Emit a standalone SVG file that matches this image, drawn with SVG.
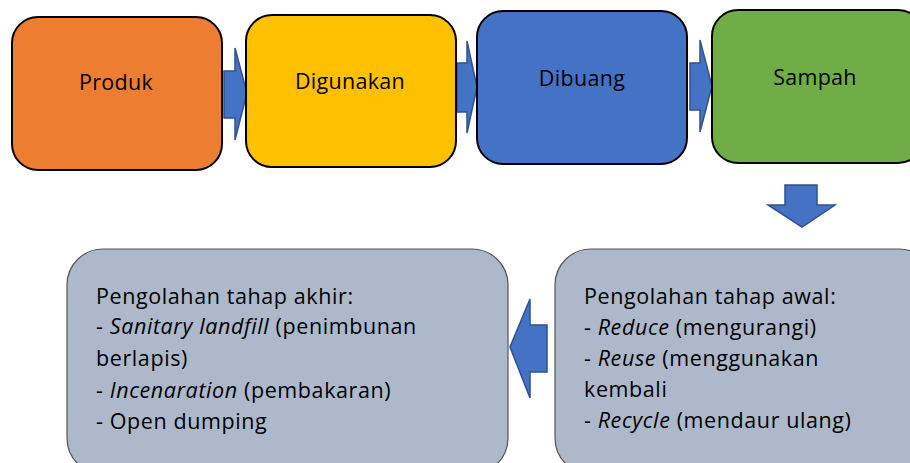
<svg xmlns="http://www.w3.org/2000/svg" width="910" height="463" viewBox="0 0 910 463">
<style>
text { font-family: "Open Sans", "Noto Sans", "Liberation Sans", sans-serif; fill: #000; }
.lbl { font-size: 21.5px; text-anchor: middle; letter-spacing: 0.3px; }
.body { font-size: 21.5px; letter-spacing: 0.6px; }
.top { stroke: #000; stroke-width: 2; }
.bot { fill: #ADB9CA; stroke: #555; stroke-width: 1.2; }
.arr { fill: #4472C4; stroke: #2F528F; stroke-width: 1.5; stroke-linejoin: miter; }
.it { font-style: italic; }
</style>
<rect width="910" height="463" fill="#fff"/>
<g id="connectors">
  <polygon class="arr" points="224,71 235,71 235,48 247,93 235,140 235,118 224,118"/>
  <polygon class="arr" points="457,63 467,63 467,41 477,87 467,133 467,112 457,112"/>
  <polygon class="arr" points="690,63 700,63 700,40 712,86 700,132 700,110 690,110"/>
  <polygon class="arr" points="785,185 817,185 817,205 835,205 802,227 768,205 785,205"/>
  <polygon class="arr" points="547,325 530,325 530,299 510,347 530,398 530,372 547,372"/>
</g>
<g id="produk">
  <rect class="top" x="12" y="17" width="210" height="153" rx="26" fill="#ED7D31"/>
  <text class="lbl" x="116" y="90">Produk</text>
</g>
<g id="digunakan">
  <rect class="top" x="246" y="15" width="210" height="152" rx="26" fill="#FFC000"/>
  <text class="lbl" x="350" y="89">Digunakan</text>
</g>
<g id="dibuang">
  <rect class="top" x="477" y="11" width="210" height="153" rx="26" fill="#4472C4"/>
  <text class="lbl" x="582" y="86">Dibuang</text>
</g>
<g id="sampah">
  <rect class="top" x="712" y="10" width="212" height="153" rx="26" fill="#70AD47"/>
  <text class="lbl" x="815" y="85">Sampah</text>
</g>
<g id="tahap-awal">
  <rect class="bot" x="555" y="249" width="380" height="225" rx="36"/>
  <text class="body" x="584" y="304">Pengolahan tahap awal:</text>
  <text class="body" x="584" y="335">- <tspan class="it">Reduce</tspan> (mengurangi)</text>
  <text class="body" x="584" y="366">- <tspan class="it">Reuse</tspan> (menggunakan</text>
  <text class="body" x="584" y="397">kembali</text>
  <text class="body" x="584" y="428">- <tspan class="it">Recycle</tspan>  (mendaur ulang)</text>
</g>
<g id="tahap-akhir">
  <rect class="bot" x="67" y="249" width="441" height="225" rx="36"/>
  <text class="body" x="96" y="304">Pengolahan tahap akhir:</text>
  <text class="body" x="96" y="334">- <tspan class="it">Sanitary landfill</tspan> (penimbunan</text>
  <text class="body" x="96" y="366">berlapis)</text>
  <text class="body" x="96" y="398">- <tspan class="it">Incenaration</tspan> (pembakaran)</text>
  <text class="body" x="96" y="429">- Open dumping</text>
</g>
</svg>
